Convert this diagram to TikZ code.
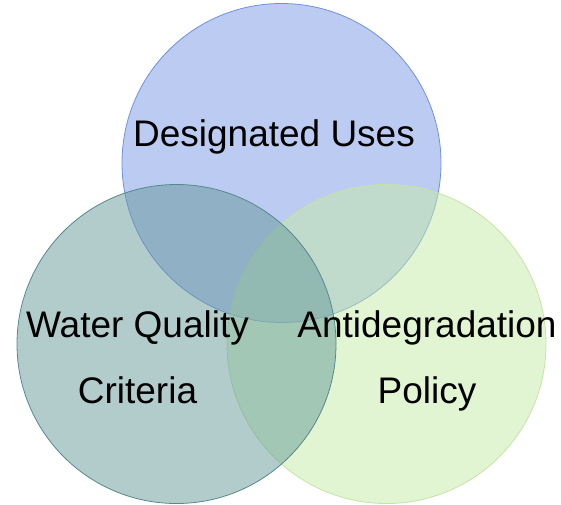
\documentclass[tikz,border=0pt]{standalone}
\usepackage{fontspec}
\setmainfont{Liberation Sans}
\usepackage{xcolor}
\usetikzlibrary{positioning}

\definecolor{usesfill}{RGB}{119,151,229}
\definecolor{usesline}{RGB}{112,144,224}
\definecolor{policyfill}{RGB}{197,235,165}
\definecolor{policyline}{RGB}{196,228,165}
\definecolor{criteriafill}{RGB}{101,153,153}
\definecolor{criterialine}{RGB}{86,136,140}

\begin{document}
\begin{tikzpicture}[
    x=1pt, y=-1pt,
    set/.style={circle, minimum size=319pt, inner sep=0pt, fill opacity=0.5, line width=0.8pt},
    label/.style={font=\fontsize{37}{66}\selectfont, align=center, inner sep=0pt, anchor=base},
    every node/.append style={text=black}
]
    \useasboundingbox (0,0) rectangle (561,504);

    % Circles
    \node[set, fill=usesfill, draw=usesline] 		(uses) 		at (281.5,163) {};
    \node[set, fill=policyfill, draw=policyline] 		(policy) 	at (386.5,344) {};
    \node[set, fill=criteriafill, draw=criterialine] 	(criteria) 	at (176.5,344) {};

    % Labels (base anchor sits on the last line)
    \node[label] (useslabel) 		at (274,146) {Designated Uses};
    \node[label] (criterialabel) 	at (137.5,403) {Water Quality\\Criteria};
    \node[label] (policylabel) 		at (427,403) {Antidegradation\\Policy};
\end{tikzpicture}
\end{document}
